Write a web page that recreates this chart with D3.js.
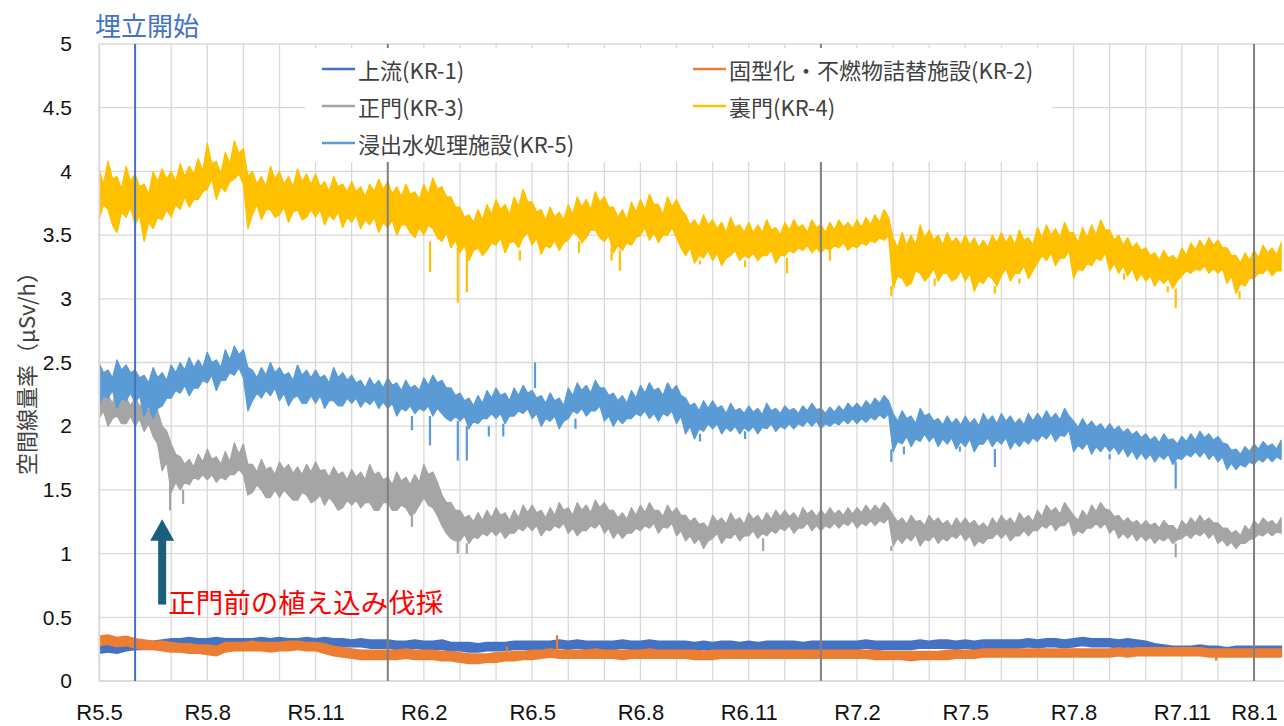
<!DOCTYPE html>
<html><head><meta charset="utf-8">
<script src="https://cdn.jsdelivr.net/npm/d3@7"></script>
<style>
body{margin:0;background:#fff;}
svg{display:block;font-family:"Noto Sans CJK JP","Noto Sans",sans-serif;}
</style>
</head><body>
<svg id="chart" width="1284" height="726"></svg>
<script>
// ---------- DATA ----------
// time axis: months since R5.5 (May 2023); values are envelope hi / lo of the dense record
const tickLabels = ["R5.5","R5.8","R5.11","R6.2","R6.5","R6.8","R6.11","R7.2","R7.5","R7.8","R7.11","R8.1"];
const tickMonths = [0,3,6,9,12,15,18,21,24,27,30,32];
const yearLineMonths = [8,20,32];
const landfillStartMonth = 1;
const yTicks = [0,0.5,1,1.5,2,2.5,3,3.5,4,4.5,5];

const seriesNames = ["上流(KR-1)","固型化・不燃物詰替施設(KR-2)","正門(KR-3)","裏門(KR-4)","浸出水処理施設(KR-5)"];
const samplesPerMonth = [4, 4, 8, 8, 8];

// KR-1 (4 per month)
const kr1Hi = [
.28,.29,.28,.29, .30,.30,.31,.32, .33,.33,.34,.33, .33,.34,.33,.33, .33,.33,.34,.33,
.34,.33,.33,.34, .33,.34,.33,.33, .32,.33,.32,.32, .32,.31,.31,.32, .31,.31,.32,.30,
.30,.30,.29,.30, .30,.30,.31,.31, .31,.31,.31,.32, .31,.32,.31,.31, .31,.31,.32,.31,
.31,.32,.31,.31, .31,.31,.30,.31, .30,.31,.31,.30, .31,.30,.31,.31, .31,.31,.30,.31,
.31,.31,.31,.31, .31,.32,.31,.31, .31,.31,.31,.32, .31,.32,.32,.31, .32,.31,.32,.32,
.32,.32,.32,.33, .32,.33,.33,.32, .33,.34,.33,.33, .33,.32,.33,.32, .31,.29,.28,.27,
.27,.27,.28,.27, .27,.26,.27,.27, .27,.27,.27,.27];
const kr1Lo = [
.22,.23,.22,.24, .25,.25,.26,.27, .28,.28,.28,.28, .28,.27,.28,.28, .28,.28,.29,.28,
.28,.28,.28,.28, .28,.28,.27,.27, .27,.27,.26,.26, .26,.25,.25,.26, .25,.25,.25,.24,
.24,.23,.23,.24, .24,.24,.25,.25, .25,.25,.25,.26, .25,.26,.25,.25, .25,.25,.26,.25,
.25,.26,.25,.25, .25,.25,.24,.25, .24,.25,.25,.24, .25,.24,.25,.25, .25,.25,.24,.25,
.25,.25,.25,.25, .25,.26,.25,.25, .25,.25,.25,.26, .26,.26,.26,.25, .26,.25,.26,.26,
.26,.26,.26,.27, .26,.27,.27,.26, .27,.28,.27,.27, .27,.26,.27,.26, .25,.23,.22,.22,
.22,.22,.22,.22, .22,.21,.22,.22, .22,.22,.22,.22];
const kr1Spikes = [];

// KR-2 (4 per month)
const kr2Hi = [
.35,.36,.34,.35, .33,.32,.31,.31, .30,.29,.29,.28, .28,.27,.30,.30, .30,.31,.30,.30,
.30,.31,.31,.30, .30,.29,.27,.26, .25,.24,.24,.24, .24,.24,.25,.24, .24,.24,.23,.23,
.22,.21,.21,.21, .22,.22,.23,.23, .24,.24,.25,.24, .24,.24,.24,.25, .24,.24,.24,.24,
.24,.25,.24,.24, .24,.24,.24,.23, .24,.24,.24,.24, .24,.24,.24,.24, .24,.24,.24,.24,
.24,.24,.24,.24, .24,.24,.24,.23, .23,.23,.23,.23, .23,.23,.24,.24, .24,.24,.25,.25,
.25,.25,.25,.25, .25,.25,.25,.25, .25,.25,.25,.25, .25,.26,.25,.26, .26,.26,.26,.26,
.26,.26,.26,.25, .25,.25,.25,.25, .25,.25,.25,.25];
const kr2Lo = [
.28,.29,.27,.28, .26,.25,.25,.24, .23,.23,.22,.22, .21,.20,.23,.24, .24,.24,.24,.23,
.24,.24,.25,.24, .24,.22,.20,.19, .18,.17,.17,.17, .17,.17,.18,.17, .17,.17,.16,.16,
.15,.14,.14,.15, .15,.16,.16,.17, .17,.18,.19,.18, .18,.18,.18,.18, .18,.18,.17,.18,
.18,.18,.18,.18, .18,.18,.17,.17, .17,.18,.18,.18, .18,.18,.18,.18, .18,.18,.18,.18,
.18,.18,.18,.18, .18,.18,.17,.17, .17,.17,.16,.17, .17,.17,.17,.18, .18,.18,.19,.19,
.19,.19,.19,.19, .19,.19,.19,.19, .19,.19,.19,.19, .19,.20,.19,.20, .20,.20,.20,.20,
.20,.20,.20,.19, .19,.19,.19,.19, .19,.19,.19,.19];
const kr2Spikes = [[11.3,.22,.27],[12.69,.24,.36],[30.95,.19,.16]];

// KR-3 (8 per month)
const kr3Hi = [
2.30,2.22,2.24,2.18,2.28,2.20,2.22,2.16, 2.22,2.16,2.18,2.12,2.20,2.12,2.00,1.96,
1.86,1.78,1.76,1.70,1.74,1.68,1.78,1.72, 1.82,1.74,1.76,1.70,1.80,1.72,1.87,1.78,
1.86,1.70,1.70,1.64,1.74,1.66,1.68,1.62, 1.72,1.66,1.70,1.63,1.68,1.62,1.70,1.64,
1.72,1.65,1.66,1.60,1.68,1.62,1.64,1.58, 1.66,1.60,1.64,1.58,1.70,1.62,1.64,1.58,
1.60,1.54,1.64,1.57,1.60,1.54,1.62,1.56, 1.70,1.62,1.64,1.56,1.46,1.40,1.40,1.34,
1.34,1.28,1.30,1.25,1.32,1.26,1.34,1.28, 1.36,1.30,1.32,1.26,1.34,1.28,1.38,1.32,
1.38,1.32,1.34,1.28,1.36,1.30,1.40,1.34, 1.36,1.30,1.40,1.34,1.38,1.32,1.42,1.36,
1.40,1.34,1.34,1.28,1.32,1.27,1.36,1.30, 1.38,1.32,1.40,1.34,1.34,1.29,1.38,1.32,
1.36,1.30,1.30,1.25,1.28,1.23,1.24,1.20, 1.30,1.25,1.28,1.23,1.32,1.26,1.28,1.23,
1.32,1.27,1.30,1.25,1.32,1.27,1.34,1.29, 1.34,1.29,1.32,1.27,1.36,1.31,1.34,1.29,
1.34,1.30,1.36,1.31,1.34,1.30,1.36,1.31, 1.36,1.32,1.38,1.33,1.38,1.34,1.40,1.36,
1.30,1.25,1.28,1.23,1.30,1.25,1.26,1.22, 1.30,1.25,1.28,1.23,1.26,1.21,1.28,1.23,
1.28,1.23,1.26,1.21,1.24,1.20,1.28,1.23, 1.30,1.25,1.28,1.23,1.32,1.27,1.30,1.25,
1.34,1.29,1.38,1.33,1.36,1.31,1.40,1.35, 1.30,1.26,1.34,1.29,1.38,1.33,1.40,1.35,
1.34,1.29,1.30,1.25,1.28,1.24,1.26,1.22, 1.26,1.22,1.24,1.20,1.26,1.22,1.22,1.18,
1.26,1.22,1.28,1.24,1.30,1.25,1.28,1.24, 1.24,1.20,1.20,1.16,1.18,1.14,1.22,1.18,
1.26,1.22,1.28,1.24,1.26,1.22,1.28];
const kr3Lo = [
2.06,2.12,2.00,2.06,2.08,2.02,2.02,2.08, 2.00,2.06,1.96,2.02,1.92,1.86,1.65,1.72,
1.48,1.56,1.50,1.56,1.54,1.60,1.58,1.62, 1.58,1.62,1.56,1.60,1.58,1.62,1.62,1.66,
1.62,1.46,1.48,1.54,1.50,1.44,1.44,1.50, 1.44,1.50,1.46,1.42,1.42,1.48,1.46,1.40,
1.42,1.46,1.38,1.44,1.40,1.34,1.36,1.42, 1.38,1.42,1.36,1.40,1.40,1.34,1.34,1.40,
1.40,1.34,1.34,1.38,1.36,1.30,1.32,1.38, 1.44,1.38,1.36,1.30,1.22,1.16,1.12,1.10,
1.10,1.15,1.08,1.13,1.12,1.16,1.14,1.18, 1.14,1.18,1.12,1.16,1.16,1.20,1.18,1.22,
1.18,1.22,1.14,1.19,1.18,1.22,1.20,1.24, 1.16,1.20,1.14,1.18,1.18,1.22,1.20,1.24,
1.16,1.20,1.12,1.17,1.12,1.16,1.16,1.20, 1.18,1.22,1.20,1.24,1.16,1.21,1.20,1.24,
1.14,1.18,1.10,1.14,1.08,1.12,1.04,1.10, 1.12,1.16,1.08,1.13,1.12,1.16,1.10,1.14,
1.14,1.18,1.12,1.16,1.14,1.18,1.16,1.20, 1.18,1.22,1.16,1.20,1.20,1.24,1.18,1.22,
1.18,1.22,1.20,1.24,1.20,1.24,1.22,1.26, 1.20,1.24,1.22,1.26,1.22,1.26,1.24,1.28,
1.06,1.12,1.08,1.13,1.10,1.15,1.06,1.11, 1.10,1.14,1.08,1.12,1.10,1.14,1.12,1.16,
1.10,1.14,1.06,1.10,1.08,1.12,1.12,1.16, 1.12,1.16,1.10,1.14,1.14,1.18,1.14,1.18,
1.18,1.22,1.20,1.24,1.18,1.22,1.22,1.26, 1.14,1.18,1.16,1.20,1.20,1.24,1.20,1.24,
1.16,1.20,1.12,1.16,1.12,1.16,1.10,1.14, 1.10,1.13,1.08,1.12,1.10,1.13,1.08,1.11,
1.12,1.15,1.12,1.16,1.14,1.17,1.12,1.16, 1.08,1.11,1.06,1.09,1.04,1.08,1.08,1.11,
1.12,1.15,1.14,1.17,1.14,1.17,1.16];
const kr3Spikes = [[1.97,1.6,1.34],[2.33,1.5,1.39],[8.67,1.34,1.21],[9.94,1.12,1.0],[10.19,1.08,1.0],[18.4,1.12,1.02],[21.95,1.06,1.02],[29.83,1.08,0.97]];

// KR-4 (8 per month)
const kr4Hi = [
4.02,3.90,4.08,3.94,3.96,3.86,4.04,3.92, 3.98,3.88,3.90,3.82,4.00,3.92,4.02,3.94,
4.00,3.92,4.06,3.96,4.04,3.98,4.10,4.00, 4.22,4.06,4.08,3.98,4.15,4.06,4.24,4.14,
4.18,3.96,4.00,3.90,3.96,3.88,4.04,3.94, 4.00,3.90,3.96,3.88,4.02,3.92,3.98,3.90,
3.98,3.88,3.92,3.84,3.96,3.88,3.90,3.84, 3.92,3.84,3.88,3.80,3.90,3.84,3.94,3.86,
3.92,3.82,3.88,3.80,3.90,3.82,3.84,3.78, 3.90,3.82,3.95,3.86,3.88,3.80,3.80,3.72,
3.72,3.64,3.66,3.60,3.70,3.62,3.74,3.66, 3.78,3.70,3.74,3.66,3.80,3.72,3.86,3.76,
3.76,3.68,3.70,3.62,3.72,3.64,3.68,3.62, 3.74,3.66,3.80,3.72,3.78,3.70,3.84,3.76,
3.80,3.72,3.72,3.64,3.70,3.62,3.76,3.68, 3.78,3.70,3.82,3.74,3.74,3.66,3.80,3.72,
3.78,3.70,3.66,3.58,3.62,3.56,3.66,3.58, 3.62,3.55,3.60,3.52,3.64,3.56,3.58,3.52,
3.60,3.52,3.58,3.52,3.62,3.54,3.56,3.50, 3.60,3.54,3.62,3.56,3.58,3.52,3.62,3.56,
3.58,3.52,3.60,3.54,3.62,3.56,3.60,3.55, 3.62,3.56,3.64,3.58,3.66,3.60,3.70,3.64,
3.48,3.40,3.52,3.42,3.50,3.42,3.58,3.48, 3.54,3.46,3.50,3.42,3.52,3.44,3.48,3.42,
3.50,3.42,3.48,3.40,3.46,3.40,3.50,3.44, 3.52,3.44,3.50,3.42,3.54,3.46,3.48,3.42,
3.56,3.48,3.58,3.50,3.55,3.48,3.60,3.52, 3.52,3.44,3.56,3.48,3.58,3.50,3.62,3.54,
3.54,3.46,3.50,3.42,3.48,3.40,3.44,3.38, 3.40,3.34,3.36,3.30,3.38,3.32,3.34,3.30,
3.40,3.34,3.44,3.38,3.46,3.40,3.48,3.42, 3.46,3.40,3.40,3.34,3.34,3.28,3.36,3.30,
3.38,3.32,3.42,3.36,3.40,3.34,3.44];
const kr4Lo = [
3.62,3.74,3.70,3.58,3.52,3.68,3.64,3.72, 3.58,3.66,3.45,3.60,3.55,3.64,3.62,3.70,
3.64,3.74,3.70,3.80,3.72,3.78,3.78,3.84, 3.86,3.94,3.78,3.88,3.84,3.92,3.94,3.98,
3.90,3.55,3.66,3.74,3.62,3.70,3.70,3.64, 3.66,3.72,3.60,3.68,3.70,3.62,3.64,3.70,
3.64,3.70,3.58,3.66,3.62,3.68,3.56,3.64, 3.60,3.66,3.55,3.62,3.58,3.64,3.52,3.60,
3.56,3.62,3.50,3.58,3.58,3.52,3.48,3.56, 3.50,3.58,3.55,3.48,3.45,3.52,3.40,3.46,
3.36,3.42,3.30,3.38,3.40,3.34,3.38,3.44, 3.42,3.48,3.36,3.44,3.45,3.40,3.48,3.52,
3.42,3.48,3.35,3.42,3.40,3.46,3.38,3.44, 3.46,3.52,3.50,3.44,3.48,3.54,3.54,3.48,
3.45,3.50,3.36,3.42,3.38,3.44,3.42,3.48, 3.50,3.56,3.46,3.52,3.44,3.50,3.50,3.56,
3.48,3.40,3.34,3.40,3.28,3.34,3.32,3.38, 3.30,3.36,3.26,3.32,3.34,3.38,3.30,3.34,
3.32,3.36,3.30,3.34,3.34,3.38,3.28,3.34, 3.34,3.38,3.36,3.40,3.38,3.42,3.36,3.40,
3.36,3.40,3.38,3.42,3.40,3.44,3.38,3.42, 3.40,3.44,3.42,3.46,3.44,3.48,3.46,3.50,
3.08,3.18,3.16,3.10,3.12,3.22,3.20,3.14, 3.18,3.24,3.14,3.20,3.20,3.14,3.16,3.22,
3.14,3.20,3.06,3.14,3.12,3.18,3.16,3.10, 3.18,3.24,3.14,3.20,3.20,3.26,3.16,3.22,
3.28,3.34,3.30,3.36,3.26,3.32,3.32,3.38, 3.16,3.24,3.22,3.28,3.26,3.32,3.30,3.36,
3.22,3.28,3.20,3.26,3.18,3.24,3.14,3.20, 3.14,3.18,3.10,3.16,3.12,3.16,3.08,3.14,
3.18,3.22,3.20,3.24,3.22,3.26,3.20,3.24, 3.20,3.24,3.12,3.18,3.04,3.12,3.10,3.16,
3.16,3.20,3.20,3.24,3.18,3.22,3.22];
const kr4Spikes = [[9.17,3.45,3.21],[9.94,3.40,2.97],[10.19,3.36,3.05],[11.66,3.38,3.30],[13.3,3.45,3.36],[14.2,3.40,3.30],[14.43,3.38,3.22],[16.65,3.30,3.27],[17.9,3.30,3.25],[19.06,3.32,3.20],[20.25,3.38,3.30],[21.95,3.10,3.02],[23.15,3.16,3.10],[24.82,3.10,3.04],[25.5,3.16,3.12],[28.4,3.20,3.15],[29.61,3.10,3.05],[29.83,3.08,2.93],[31.6,3.06,3.00]];

// KR-5 (8 per month)
const kr5Hi = [
2.50,2.42,2.44,2.38,2.52,2.44,2.48,2.42, 2.44,2.38,2.40,2.34,2.46,2.38,2.42,2.36,
2.48,2.42,2.50,2.44,2.54,2.46,2.52,2.46, 2.58,2.50,2.52,2.46,2.60,2.52,2.63,2.56,
2.60,2.46,2.44,2.38,2.46,2.40,2.50,2.42, 2.46,2.40,2.42,2.36,2.48,2.40,2.44,2.38,
2.44,2.38,2.40,2.34,2.46,2.38,2.42,2.36, 2.40,2.34,2.36,2.30,2.38,2.32,2.36,2.30,
2.38,2.32,2.34,2.28,2.36,2.30,2.32,2.28, 2.38,2.32,2.40,2.34,2.36,2.30,2.30,2.24,
2.26,2.20,2.22,2.16,2.24,2.18,2.28,2.22, 2.30,2.24,2.26,2.20,2.30,2.24,2.32,2.26,
2.28,2.22,2.24,2.18,2.26,2.20,2.22,2.16, 2.30,2.24,2.34,2.28,2.32,2.26,2.36,2.30,
2.30,2.24,2.26,2.20,2.24,2.18,2.28,2.22, 2.32,2.26,2.34,2.28,2.30,2.24,2.34,2.28,
2.32,2.24,2.22,2.16,2.18,2.12,2.20,2.14, 2.20,2.14,2.16,2.10,2.18,2.12,2.14,2.10,
2.16,2.11,2.14,2.09,2.18,2.12,2.14,2.10, 2.16,2.12,2.14,2.10,2.16,2.12,2.18,2.13,
2.14,2.10,2.15,2.11,2.16,2.12,2.18,2.14, 2.18,2.14,2.20,2.16,2.22,2.18,2.24,2.20,
2.10,2.04,2.12,2.06,2.08,2.02,2.14,2.08, 2.10,2.04,2.06,2.01,2.08,2.02,2.06,2.01,
2.08,2.02,2.06,2.00,2.10,2.04,2.08,2.02, 2.10,2.04,2.08,2.02,2.06,2.01,2.10,2.04,
2.10,2.05,2.12,2.06,2.10,2.05,2.14,2.08, 2.04,1.99,2.06,2.00,2.04,1.99,2.02,1.97,
2.02,1.97,2.00,1.95,1.98,1.93,1.96,1.91, 1.94,1.89,1.92,1.87,1.94,1.89,1.90,1.86,
1.92,1.88,1.94,1.89,1.96,1.91,1.94,1.89, 1.92,1.87,1.86,1.81,1.82,1.78,1.84,1.80,
1.86,1.82,1.88,1.84,1.86,1.82,1.89];
const kr5Lo = [
2.16,2.24,2.22,2.28,2.14,2.22,2.20,2.26, 2.18,2.24,2.08,2.16,2.06,2.14,2.16,2.22,
2.22,2.28,2.26,2.32,2.24,2.30,2.30,2.36, 2.34,2.40,2.28,2.36,2.36,2.42,2.40,2.46,
2.38,2.12,2.20,2.26,2.22,2.28,2.24,2.30, 2.20,2.26,2.16,2.22,2.24,2.18,2.18,2.24,
2.18,2.24,2.14,2.20,2.20,2.16,2.16,2.22, 2.18,2.22,2.15,2.20,2.17,2.21,2.14,2.19,
2.14,2.18,2.08,2.14,2.12,2.16,2.10,2.14, 2.12,2.16,2.08,2.14,2.10,2.06,2.04,2.08,
2.04,2.08,1.98,2.04,2.02,2.06,2.06,2.10, 2.06,2.10,2.02,2.08,2.08,2.12,2.10,2.14,
2.06,2.10,2.00,2.06,2.04,2.08,1.98,2.04, 2.06,2.12,2.10,2.14,2.08,2.12,2.12,2.16,
2.04,2.08,2.00,2.06,2.02,2.06,2.06,2.10, 2.08,2.12,2.06,2.10,2.04,2.10,2.08,2.12,
2.02,2.08,1.94,2.00,1.90,1.98,1.96,2.02, 1.98,2.02,1.94,1.99,1.96,2.00,1.94,1.99,
1.96,2.00,1.94,1.99,1.98,2.02,1.96,2.00, 1.98,2.02,1.98,2.02,2.00,2.04,2.00,2.04,
1.98,2.02,2.00,2.03,2.01,2.05,2.02,2.06, 2.02,2.06,2.03,2.07,2.05,2.09,2.06,2.10,
1.80,1.88,1.86,1.92,1.84,1.90,1.88,1.94, 1.88,1.92,1.84,1.90,1.86,1.91,1.82,1.88,
1.84,1.90,1.80,1.86,1.86,1.91,1.84,1.89, 1.86,1.91,1.82,1.88,1.84,1.89,1.86,1.91,
1.88,1.93,1.90,1.95,1.88,1.93,1.92,1.97, 1.80,1.85,1.82,1.87,1.78,1.84,1.80,1.85,
1.80,1.84,1.78,1.83,1.76,1.81,1.74,1.79, 1.74,1.78,1.72,1.77,1.74,1.78,1.70,1.75,
1.74,1.78,1.76,1.80,1.76,1.80,1.74,1.78, 1.72,1.76,1.66,1.71,1.66,1.70,1.68,1.72,
1.70,1.74,1.72,1.76,1.72,1.76,1.74];
const kr5Spikes = [[8.67,2.08,1.97],[9.17,2.08,1.85],[9.94,2.04,1.73],[10.19,2.0,1.73],[10.8,2.0,1.92],[11.2,2.02,1.92],[12.08,2.30,2.50],[13.2,2.06,1.98],[16.65,1.94,1.88],[17.9,1.96,1.90],[21.95,1.82,1.72],[22.3,1.84,1.78],[23.85,1.84,1.80],[24.82,1.82,1.68],[28.0,1.78,1.74],[29.83,1.72,1.51]];

// ---------- STYLE ----------
const seriesColors = ["#4472C4","#ED7D31","#A5A5A5","#FFC000","#5B9BD5"];
const seriesStroke = [2, 2, 1.3, 1.3, 1.3];
const plot = {left: 99, right: 1284, top: 44, bottom: 681};

const series = seriesNames.map((name, i) => ({
  name, color: seriesColors[i], width: seriesStroke[i], spm: samplesPerMonth[i],
  hi: [kr1Hi, kr2Hi, kr3Hi, kr4Hi, kr5Hi][i],
  lo: [kr1Lo, kr2Lo, kr3Lo, kr4Lo, kr5Lo][i],
  spikes: [kr1Spikes, kr2Spikes, kr3Spikes, kr4Spikes, kr5Spikes][i]
}));

const x = d3.scaleLinear().domain([0, 32.83]).range([plot.left, plot.right]);
const y = d3.scaleLinear().domain([0, 5]).range([plot.bottom, plot.top]);
const svg = d3.select("#chart");

svg.append("defs").append("clipPath").attr("id", "plotClip")
  .append("rect").attr("x", plot.left).attr("y", plot.top - 2)
  .attr("width", plot.right - plot.left).attr("height", plot.bottom - plot.top + 4);

// horizontal gridlines
svg.append("g").selectAll("line").data(yTicks.filter(d => d > 0)).join("line")
  .attr("x1", plot.left).attr("x2", plot.right)
  .attr("y1", d => y(d)).attr("y2", d => y(d))
  .attr("stroke", "#D9D9D9").attr("stroke-width", 1.3);
// vertical monthly gridlines
svg.append("g").selectAll("line").data(d3.range(0, 33)).join("line")
  .attr("x1", d => x(d)).attr("x2", d => x(d))
  .attr("y1", plot.top).attr("y2", plot.bottom)
  .attr("stroke", "#D9D9D9").attr("stroke-width", 1.3);
// bottom axis line
svg.append("line").attr("x1", plot.left).attr("x2", plot.right)
  .attr("y1", y(0)).attr("y2", y(0)).attr("stroke", "#D0D0D0").attr("stroke-width", 1.5);

// series (dense record drawn as its hi/lo envelope)
const gSeries = svg.append("g").attr("clip-path", "url(#plotClip)");
series.forEach(s => {
  const area = d3.area()
    .x((d, i) => x(i / s.spm))
    .y0(d => y(d[0])).y1(d => y(d[1]));
  const pts = s.lo.map((v, i) => [v, s.hi[i]]);
  gSeries.append("path").datum(pts)
    .attr("d", area)
    .attr("fill", s.color).attr("stroke", s.color).attr("stroke-width", s.width)
    .attr("stroke-linejoin", "round");
  gSeries.append("g").selectAll("line").data(s.spikes).join("line")
    .attr("x1", d => x(d[0])).attr("x2", d => x(d[0]))
    .attr("y1", d => y(d[1])).attr("y2", d => y(d[2]))
    .attr("stroke", s.color).attr("stroke-width", 2.2);
});

// year boundary lines
svg.append("g").selectAll("line").data(yearLineMonths).join("line")
  .attr("x1", d => x(d)).attr("x2", d => x(d))
  .attr("y1", plot.top).attr("y2", plot.bottom)
  .attr("stroke", "#808080").attr("stroke-width", 2);
// landfill start line
svg.append("line").attr("x1", x(landfillStartMonth)).attr("x2", x(landfillStartMonth))
  .attr("y1", plot.top).attr("y2", plot.bottom)
  .attr("stroke", "#4472C4").attr("stroke-width", 2);
svg.append("text").attr("x", x(landfillStartMonth) - 40).attr("y", plot.top - 8)
  .attr("font-size", 26).attr("fill", "#4472C4").text("埋立開始");

// y axis
const yAxis = svg.append("g").attr("transform", `translate(${plot.left},0)`)
  .call(d3.axisLeft(y).tickValues(yTicks).tickFormat(d3.format("~g")).tickSize(0).tickPadding(27));
yAxis.select(".domain").attr("stroke", "#D9D9D9").attr("stroke-width", 1.3);
yAxis.selectAll("text").attr("font-size", 21).attr("fill", "#111").attr("font-family", null);

// x axis
const xAxis = svg.append("g").attr("transform", `translate(0,${plot.bottom})`)
  .call(d3.axisBottom(x).tickValues(tickMonths).tickFormat((d, i) => tickLabels[i]).tickSize(0).tickPadding(23));
xAxis.select(".domain").remove();
xAxis.selectAll("text").attr("font-size", 22).attr("fill", "#111").attr("font-family", null);

// y title
svg.append("text").attr("transform", "translate(25,368) rotate(-90)")
  .attr("text-anchor", "middle").attr("dominant-baseline", "central")
  .attr("font-size", 22).attr("fill", "#404040").text("空間線量率（μSv/h）");

// annotation
const annMonth = 1.75;
svg.append("line").attr("x1", x(annMonth)).attr("x2", x(annMonth))
  .attr("y1", y(0.6)).attr("y2", y(1.12))
  .attr("stroke", "#1B5E7E").attr("stroke-width", 8);
svg.append("path")
  .attr("d", `M${x(annMonth)},${y(1.27)} L${x(annMonth)-12},${y(1.1)} L${x(annMonth)+12},${y(1.1)} Z`)
  .attr("fill", "#1B5E7E");
svg.append("text").attr("x", x(annMonth) + 6).attr("y", y(0.53))
  .attr("font-size", 27.5).attr("fill", "#FF0000").text("正門前の植え込み伐採");

// legend
const lg = svg.append("g");
lg.append("rect").attr("x", 305).attr("y", 48).attr("width", 747).attr("height", 114).attr("fill", "#fff");
const legendPos = [[322,69],[693,69],[322,106],[693,106],[322,143]];
series.forEach((s, i) => {
  const [lx, ly] = legendPos[i];
  lg.append("line").attr("x1", lx).attr("x2", lx + 33).attr("y1", ly).attr("y2", ly)
    .attr("stroke", s.color).attr("stroke-width", 2.5);
  lg.append("text").attr("x", lx + 36).attr("y", ly).attr("dominant-baseline", "central")
    .attr("font-size", 22).attr("fill", "#404040").text(s.name);
});
</script>
</body></html>
